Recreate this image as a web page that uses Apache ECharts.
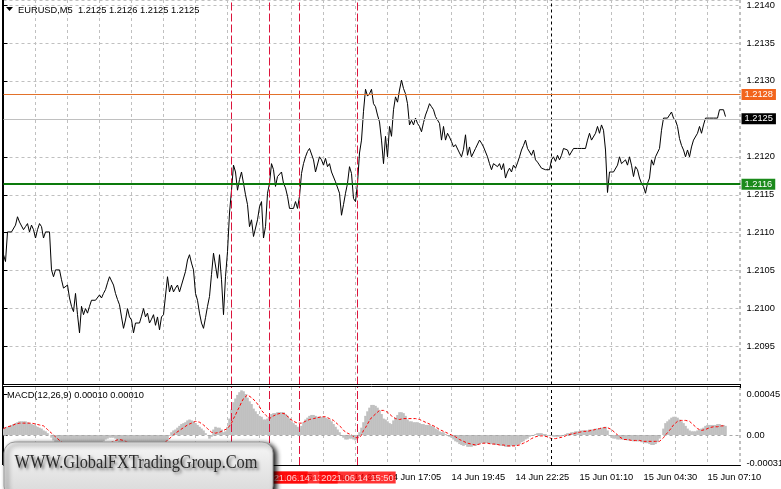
<!DOCTYPE html>
<html><head><meta charset="utf-8">
<script src="https://cdn.jsdelivr.net/npm/echarts@6/dist/echarts.min.js"></script>
<style>html,body{margin:0;padding:0;background:#fff}#c{width:781px;height:489px}</style>
</head><body><div id="c"></div>
<script>
// ---------- data ----------
const symbolTitle = 'EURUSD,M5  1.2125 1.2126 1.2125 1.2125';
const macdTitle = 'MACD(12,26,9) 0.00010 0.00010';
const watermarkText = 'WWW.GlobalFXTradingGroup.Com';

// close price of each M5 bar (bar 0 = leftmost)
const closePrices = [
1.21071,1.21062,1.21101,1.21101,1.21101,1.21101,1.21110,1.21121,1.21114,1.21112,
1.21104,1.21108,1.21112,1.21101,1.21110,1.21104,1.21093,1.21104,1.21112,1.21108,
1.21093,1.21101,1.21099,1.21101,1.21051,1.21042,1.21051,1.21051,1.21051,1.21038,
1.21027,1.21029,1.21031,1.21014,1.21003,1.20996,1.21020,1.20992,1.20968,1.21003,
1.20992,1.21000,1.20994,1.21003,1.21011,1.21011,1.21011,1.21011,1.21018,1.21014,
1.21020,1.21025,1.21034,1.21042,1.21042,1.21031,1.21020,1.21012,1.21005,1.20989,
1.20974,1.20985,1.21000,1.20989,1.20985,1.20968,1.20981,1.20981,1.20981,1.20990,
1.21000,1.20989,1.20994,1.20981,1.20986,1.20992,1.20978,1.20989,1.20972,1.20989,
1.20992,1.20994,1.21042,1.21022,1.21031,1.21022,1.21027,1.21031,1.21022,1.21031,
1.21029,1.21049,1.21064,1.21071,1.21060,1.21051,1.21020,1.21011,1.20994,1.20981,
1.20974,1.20988,1.21003,1.21016,1.21045,1.21073,1.21071,1.21040,1.21071,1.21038,
1.20992,1.21042,1.21075,1.21126,1.21156,1.21189,1.21180,1.21156,1.21170,1.21180,
1.21165,1.21150,1.21137,1.21108,1.21117,1.21095,1.21093,1.21117,1.21134,1.21141,
1.21093,1.21108,1.21152,1.21165,1.21191,1.21183,1.21161,1.21174,1.21172,1.21180,
1.21165,1.21159,1.21148,1.21132,1.21132,1.21132,1.21141,1.21132,1.21148,1.21178,
1.21191,1.21200,1.21207,1.21211,1.21211,1.21196,1.21180,1.21180,1.21200,1.21196,
1.21189,1.21198,1.21187,1.21191,1.21180,1.21178,1.21167,1.21165,1.21152,1.21123,
1.21137,1.21152,1.21165,1.21187,1.21178,1.21145,1.21141,1.21165,1.21205,1.21222,
1.21260,1.21289,1.21280,1.21283,1.21289,1.21270,1.21266,1.21255,1.21246,1.21222,
1.21191,1.21227,1.21200,1.21240,1.21227,1.21262,1.21279,1.21272,1.21288,1.21301,
1.21290,1.21283,1.21270,1.21242,1.21248,1.21242,1.21251,1.21244,1.21240,1.21233,
1.21245,1.21255,1.21262,1.21270,1.21266,1.21262,1.21253,1.21251,1.21244,1.21222,
1.21240,1.21222,1.21231,1.21226,1.21220,1.21213,1.21216,1.21218,1.21205,1.21200,
1.21210,1.21229,1.21202,1.21213,1.21200,1.21200,1.21211,1.21211,1.21222,1.21218,
1.21213,1.21211,1.21200,1.21191,1.21183,1.21191,1.21189,1.21187,1.21191,1.21183,
1.21191,1.21172,1.21180,1.21185,1.21180,1.21189,1.21185,1.21192,1.21200,1.21209,
1.21215,1.21222,1.21211,1.21213,1.21202,1.21209,1.21196,1.21193,1.21191,1.21185,
1.21183,1.21183,1.21183,1.21183,1.21196,1.21200,1.21194,1.21202,1.21196,1.21202,
1.21211,1.21211,1.21209,1.21202,1.21201,1.21211,1.21211,1.21211,1.21211,1.21211,
1.21211,1.21211,1.21222,1.21231,1.21222,1.21222,1.21231,1.21240,1.21231,1.21242,
1.21235,1.21209,1.21153,1.21180,1.21180,1.21180,1.21180,1.21189,1.21200,1.21191,
1.21189,1.21196,1.21189,1.21200,1.21189,1.21174,1.21187,1.21183,1.21172,1.21165,
1.21161,1.21152,1.21165,1.21172,1.21196,1.21189,1.21200,1.21200,1.21211,1.21235,
1.21251,1.21251,1.21251,1.21251,1.21259,1.21251,1.21248,1.21240,1.21224,1.21215,
1.21209,1.21200,1.21209,1.21200,1.21213,1.21222,1.21222,1.21231,1.21240,1.21231,
1.21242,1.21251,1.21251,1.21251,1.21251,1.21251,1.21251,1.21251,1.21262,1.21262,
1.21262,1.21253
];

// MACD main line (histogram) per bar, in points (1 point = 0.00001)
const macdHistPoints = [
7,8,9,10,11,12,13,14,15,15,
15,15,14,13,12,11,10,9,8,7,
5,4,2,0,-3,-6,-9,-11,-13,-15,
-16,-17,-18,-19,-20,-21,-21,-22,-23,-22,
-22,-21,-20,-19,-17,-16,-14,-13,-11,-9,
-7,-5,-4,-3,-3,-3,-4,-6,-8,-11,
-14,-15,-15,-16,-17,-19,-19,-19,-19,-18,
-17,-17,-17,-17,-17,-17,-18,-18,-18,-17,
-15,-12,-6,-1,3,5,6,8,10,12,
13,14,16,17,16,15,13,11,9,7,
5,2,0,-4,-2,6,9,8,8,6,
3,4,9,18,28,36,40,44,47,49,
48,45,41,37,34,29,26,23,21,20,
17,17,18,20,23,24,24,25,25,25,
25,23,21,18,15,13,11,9,7,10,
14,17,19,21,22,22,21,20,20,20,
20,19,18,17,15,12,9,6,3,-1,
-3,-5,-5,-4,-4,-5,-6,-3,3,8,
14,21,26,30,33,33,32,30,27,23,
18,17,15,13,12,16,19,22,25,25,
24,21,17,15,15,14,14,14,13,12,
12,11,11,11,10,9,7,6,4,3,
3,1,-1,-2,-3,-5,-7,-8,-10,-11,
-12,-11,-13,-13,-13,-12,-12,-11,-10,-9,
-9,-9,-9,-10,-10,-10,-11,-11,-11,-12,
-12,-13,-13,-13,-12,-12,-12,-11,-10,-8,
-7,-5,-4,-2,-1,0,1,2,2,2,
1,1,0,-1,-1,-2,-2,-2,-2,-1,
0,1,2,2,3,3,4,4,4,5,
5,5,5,6,6,6,7,7,7,8,
8,9,5,-1,-3,-4,-4,-5,-5,-5,
-5,-5,-6,-6,-6,-7,-7,-7,-7,-8,
-8,-9,-9,-10,-11,-11,-10,-8,-4,0,
7,13,15,17,19,20,20,19,17,15,
13,10,7,5,4,4,4,5,6,7,
8,10,11,11,11,11,11,12,12,11,
11,10
];

// MACD signal line per bar, in points (1 point = 0.00001)
const macdSignalPoints = [
7,8,9,10,10,11,12,12,13,13,
13,13,13,13,13,13,12,12,11,11,
10,8,6,4,2,0,-2,-4,-6,-7,
-9,-10,-12,-13,-14,-15,-16,-17,-18,-19,
-19,-20,-20,-20,-20,-19,-19,-18,-17,-16,
-14,-13,-11,-10,-8,-7,-6,-5,-5,-5,
-6,-7,-8,-9,-10,-11,-12,-13,-14,-15,
-16,-17,-17,-17,-17,-17,-16,-15,-13,-11,
-9,-7,-6,-4,-2,0,2,4,5,7,
8,10,11,12,13,14,15,15,14,13,
11,9,7,5,3,2,2,3,3,4,
5,6,7,10,13,18,22,27,31,36,
40,42,44,43,41,39,37,34,31,27,
25,22,20,18,19,21,22,23,23,24,
24,23,21,18,16,15,14,13,13,13,
14,15,16,17,17,18,18,19,19,20,
20,20,19,18,17,16,14,12,10,8,
5,4,2,1,0,-2,-3,-5,-3,0,
5,8,12,16,19,21,23,25,27,27,
27,26,25,23,21,20,18,16,17,18,
18,18,18,18,18,18,18,18,17,16,
15,14,13,12,11,10,9,8,6,5,
4,3,2,1,0,-1,-2,-4,-5,-6,
-7,-8,-9,-10,-10,-11,-11,-11,-10,-10,
-9,-9,-9,-9,-10,-10,-10,-11,-11,-11,
-11,-12,-12,-12,-12,-12,-12,-11,-11,-10,
-9,-8,-7,-6,-4,-3,-2,-2,-1,-1,
-1,-2,-2,-3,-4,-5,-4,-4,-3,-3,
-2,-1,0,1,1,2,2,3,3,3,
4,4,4,5,5,6,6,7,7,7,
8,8,8,7,6,4,2,0,-2,-4,
-5,-5,-5,-5,-6,-6,-6,-6,-6,-7,
-7,-7,-7,-7,-7,-7,-7,-7,-7,-5,
-3,0,2,5,8,11,13,15,16,16,
16,16,15,15,13,11,9,7,6,5,
5,6,7,8,8,9,9,9,10,10,
10,10
];
const POINT = 0.00001;

// time scale labels (bar index -> text)
const timeLabelBars = [0, 32, 64, 96, 128, 160, 192, 224, 256, 288, 320, 352];
const timeLabels = ['14 Jun 01:05','14 Jun 03:45','14 Jun 06:25','14 Jun 09:05','14 Jun 11:45','14 Jun 14:25',
                    '14 Jun 17:05','14 Jun 19:45','14 Jun 22:25','15 Jun 01:10','15 Jun 04:30','15 Jun 07:10'];

// vertical event lines
const eventLineBars = [114, 133, 148, 177];
const eventLineTimes = ['2021.06.14 10:35', '2021.06.14 12:10', '2021.06.14 13:25', '2021.06.14 15:50'];
// day separator
const daySeparatorBars = [274];

// horizontal price levels
const bidPrice = 1.2125;
const resistanceLevel = 1.21282;
const supportLevel = 1.21164;

// axes
const priceMin = 1.2090, priceMax = 1.214066, priceStep = 0.0005;
const barMin = 0, barMax = 368.5, barStep = 16;
const macdMin = -0.00033, macdMax = 0.000527;
const macdTickValues = [0.00045, 0, -0.00031];

// ---------- chart ----------
const FONT = "'Liberation Sans', Arial, sans-serif";
const GRID_C = '#c0c0c0';
const EVENT_C = '#dc143c';
const chart = echarts.init(document.getElementById('c'), null, {renderer: 'canvas', width: 781, height: 489});

const priceData = closePrices.map((v, i) => [i, v]);
const histData = macdHistPoints.map((v, i) => [i, +(v * POINT).toFixed(5)]);
const sigData = macdSignalPoints.map((v, i) => [i, +(v * POINT).toFixed(5)]);
const timeMap = {};
timeLabelBars.forEach((b, k) => { timeMap[b] = timeLabels[k]; });

function levelLabel(bg) {
  return {show: true, position: 'end', distance: 1, formatter: p => Number(p.value).toFixed(4),
    backgroundColor: bg, color: '#fff', fontSize: 9.3, fontFamily: FONT, padding: [1, 3, 0, 3], lineHeight: 10};
}
const splitDash = {show: true, lineStyle: {color: GRID_C, width: 1, type: [3, 3]}};

// vertical marker lines drawn as two-point line series through the axes
function vLine(bar, xi, lo, hi, color, dash, z) {
  return {type: 'line', xAxisIndex: xi, yAxisIndex: xi, data: [[bar, lo], [bar, hi]], symbol: 'none', silent: true,
    color: color, lineStyle: {color: color, width: 1, type: dash, opacity: 1}, itemStyle: {color: color},
    emphasis: {disabled: true}, z: z, animation: false, clip: true};
}
const vSeries = [];
eventLineBars.forEach(b => {
  vSeries.push(vLine(b, 0, priceMin, priceMax, EVENT_C, [8, 3], 4));
  vSeries.push(vLine(b, 1, macdMin, macdMax, EVENT_C, [8, 3], 4));
});
daySeparatorBars.forEach(b => {
  vSeries.push(vLine(b, 0, priceMin, priceMax, '#000000', [3, 3], 4));
  vSeries.push(vLine(b, 1, macdMin, macdMax, '#000000', [3, 3], 4));
});

const GL = 3.5, GR = 781 - 740.5;
const option = {
  animation: false,
  backgroundColor: '#ffffff',
  textStyle: {fontFamily: FONT},
  grid: [
    {left: GL, right: GR, top: 0, height: 384.5, show: false, outerBoundsMode: 'none', containLabel: false},
    {left: GL, right: GR, top: 387, height: 78, show: false, outerBoundsMode: 'none', containLabel: false}
  ],
  xAxis: [
    {gridIndex: 0, type: 'value', min: barMin, max: barMax, interval: barStep,
      axisLine: {show: false}, axisTick: {show: false}, axisLabel: {show: false}, splitLine: splitDash},
    {gridIndex: 1, type: 'value', min: barMin, max: barMax, interval: barStep,
      axisLine: {show: true, onZero: false, lineStyle: {color: '#000', width: 1}},
      axisTick: {show: false},
      axisLabel: {show: true, margin: 8, align: 'left', color: '#000', fontSize: 9.3, fontFamily: FONT,
        formatter: v => timeMap[v] || '', showMinLabel: true, showMaxLabel: false, hideOverlap: false},
      splitLine: splitDash}
  ],
  yAxis: [
    {gridIndex: 0, type: 'value', position: 'right', min: priceMin, max: priceMax, interval: priceStep, scale: true,
      axisLine: {show: true, lineStyle: {color: '#000', width: 1}},
      axisTick: {show: true, length: 4, lineStyle: {color: '#000'}},
      axisLabel: {show: true, margin: 6, color: '#000', fontSize: 9.3, fontFamily: FONT,
        formatter: v => v.toFixed(4), showMinLabel: false, showMaxLabel: false},
      splitLine: splitDash},
    {gridIndex: 1, type: 'value', position: 'right', min: macdMin, max: macdMax, scale: true,
      axisLine: {show: true, lineStyle: {color: '#000', width: 1}},
      axisTick: {show: true, length: 4, customValues: macdTickValues, lineStyle: {color: '#000'}},
      axisLabel: {show: true, margin: 6, color: '#000', fontSize: 9.3, fontFamily: FONT, customValues: macdTickValues,
        formatter: v => (Math.abs(v) < 1e-9 ? '0.00' : v.toFixed(5))},
      splitLine: {show: false}}
  ],
  series: [
    {type: 'line', name: 'EURUSD', xAxisIndex: 0, yAxisIndex: 0, data: priceData, symbol: 'none', silent: true,
      lineStyle: {color: '#000', width: 1}, itemStyle: {color: '#000'}, z: 3,
      markLine: {silent: true, symbol: ['none', 'none'], precision: 6, animation: false, z: 5,
        label: {show: false},
        data: [
          {yAxis: bidPrice, lineStyle: {color: '#c0c0c0', width: 1, type: 'solid'}, label: levelLabel('#000000')},
          {yAxis: resistanceLevel, lineStyle: {color: '#e2712a', width: 1, type: 'solid'}, label: levelLabel('#f2641c')},
          {yAxis: supportLevel, lineStyle: {color: '#0c7a0c', width: 2, type: 'solid'}, label: levelLabel('#1b8a1b')}
        ]}},
    {type: 'bar', name: 'MACD', xAxisIndex: 1, yAxisIndex: 1, data: histData, barWidth: 2.6, silent: true,
      itemStyle: {color: '#c0c0c0'}, z: 2,
      markLine: {silent: true, symbol: ['none', 'none'], precision: 6, animation: false, z: 5,
        data: [
          {yAxis: 0, lineStyle: {color: '#a8a8a8', width: 1, type: [3, 3]}, label: {show: false}}
        ]}},
    {type: 'line', name: 'Signal', xAxisIndex: 1, yAxisIndex: 1, data: sigData, symbol: 'none', silent: true,
      lineStyle: {color: '#ff0000', width: 1, type: [3, 2]}, z: 3},
    ...vSeries,
    // time-scale captions of the event lines
    {type: 'scatter', name: 'eventCaptions', xAxisIndex: 1, yAxisIndex: 1, silent: true, z: 8, clip: false,
      symbol: 'rect', symbolSize: 1, itemStyle: {color: 'rgba(0,0,0,0)'},
      data: eventLineBars.map((b, k) => ({value: [b, macdMin], label: {formatter: eventLineTimes[k]}})),
      label: {show: true, position: 'bottom', distance: 6, backgroundColor: '#ff0000', color: '#fff',
        fontSize: 9.3, fontFamily: FONT, padding: [1, 2, 0, 2], lineHeight: 11},
      labelLayout: {hideOverlap: false}}
  ],
  graphic: [
    {type: 'line', z: 10, shape: {x1: 2.5, y1: 0, x2: 2.5, y2: 465}, style: {stroke: '#000', lineWidth: 1}},
    {type: 'line', z: 10, shape: {x1: 2, y1: 384.5, x2: 741, y2: 384.5}, style: {stroke: '#000', lineWidth: 1}},
    {type: 'line', z: 10, shape: {x1: 2, y1: 386.5, x2: 741, y2: 386.5}, style: {stroke: '#000', lineWidth: 1}},
    {type: 'line', z: 10, shape: {x1: 740.5, y1: 384, x2: 740.5, y2: 388}, style: {stroke: '#000', lineWidth: 1}},
    {type: 'polygon', z: 20, shape: {points: [[6, 7], [13, 7], [9.5, 11]]}, style: {fill: '#000'}},
    {type: 'text', z: 20, x: 18, y: 10, style: {text: symbolTitle, fill: '#000', font: "9.3px 'Liberation Sans'",
      align: 'left', verticalAlign: 'middle', textAlign: 'left', textVerticalAlign: 'middle'}},
    {type: 'text', z: 20, x: 7, y: 395, style: {text: macdTitle, fill: '#000', font: "9.3px 'Liberation Sans'",
      align: 'left', verticalAlign: 'middle', textAlign: 'left', textVerticalAlign: 'middle'}},
    {type: 'rect', z: 100, shape: {x: 4, y: 442, width: 269, height: 55, r: 11},
      style: {fill: new echarts.graphic.LinearGradient(0, 0, 0, 1, [{offset: 0, color: '#f6f6f6'}, {offset: 1, color: '#d8d8d8'}]),
        stroke: '#9a9a9a', lineWidth: 1,
        shadowBlur: 5, shadowColor: 'rgba(0,0,0,0.95)', shadowOffsetX: 3, shadowOffsetY: 2}},
    {type: 'text', z: 101, x: 136, y: 463, scaleX: 0.86, style: {text: watermarkText, fill: '#2b2b2b',
      font: "19px 'Liberation Serif', 'Times New Roman', serif", align: 'center', verticalAlign: 'middle',
      textAlign: 'center', textVerticalAlign: 'middle',
      textShadowColor: 'rgba(0,0,0,0.55)', textShadowBlur: 3, textShadowOffsetX: 2, textShadowOffsetY: 2}}
  ]
};
chart.setOption(option);
</script>
</body></html>
